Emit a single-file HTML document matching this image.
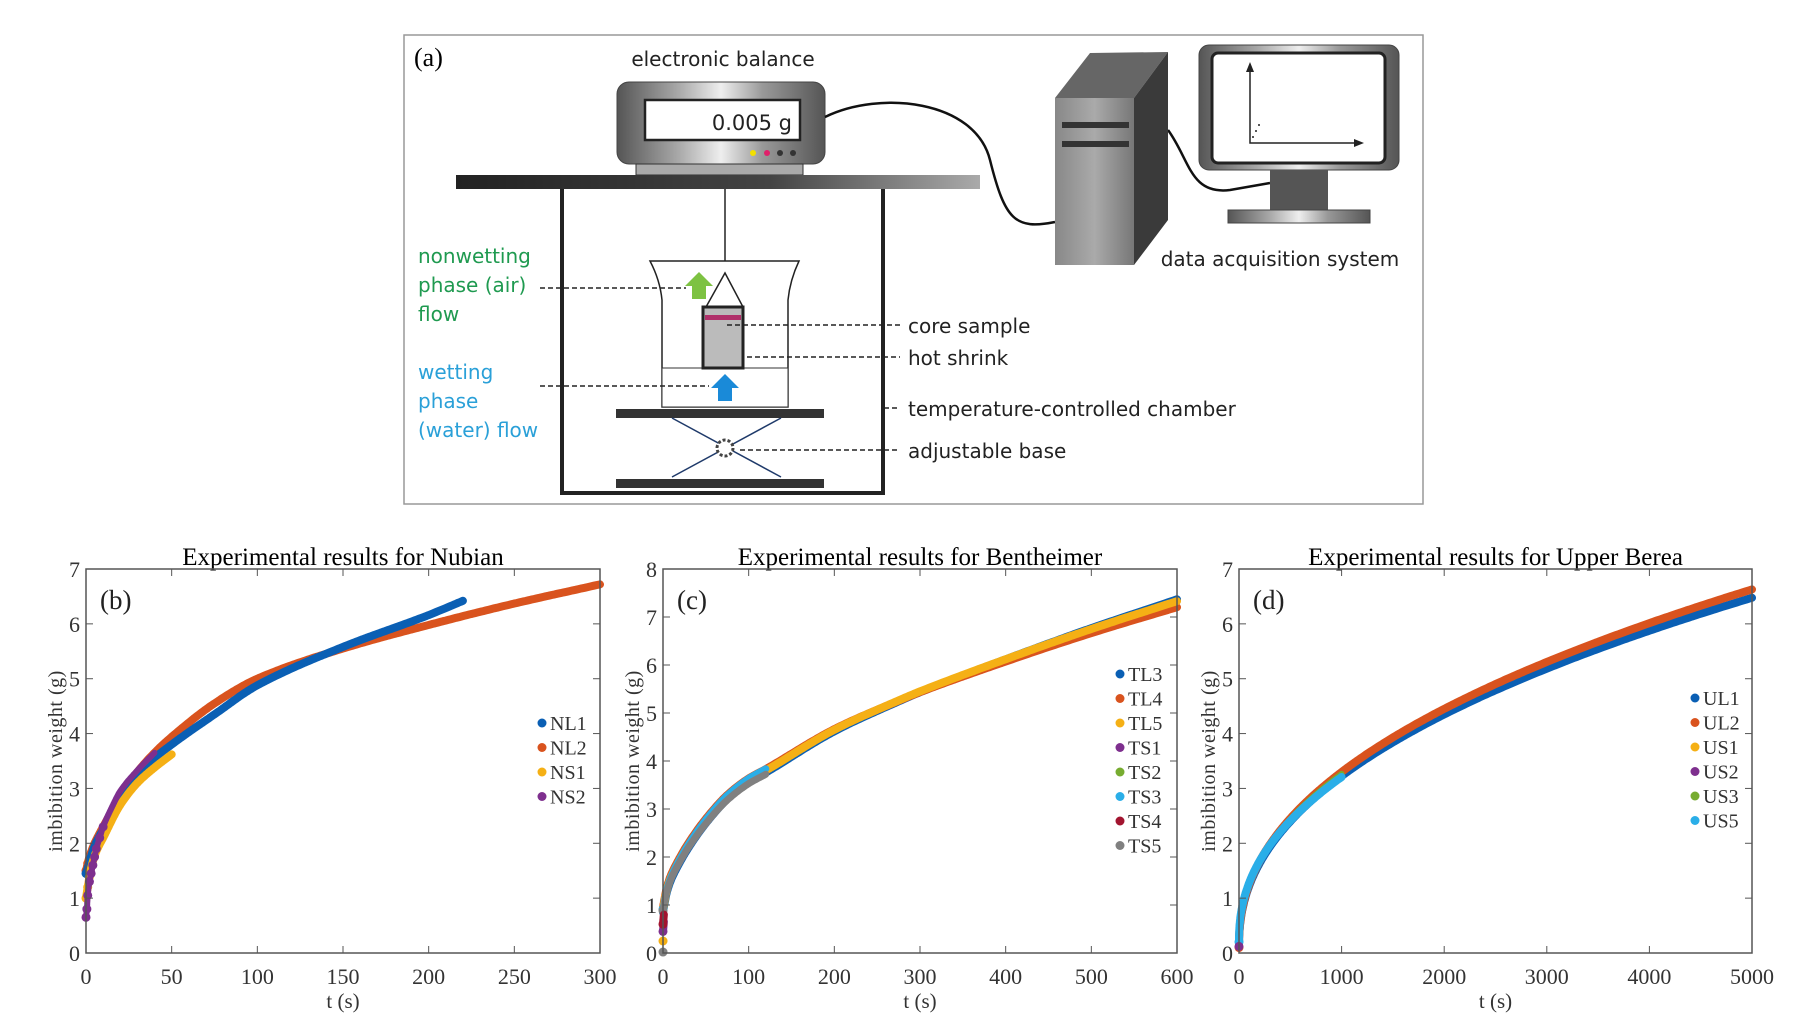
<!DOCTYPE html>
<html><head><meta charset="utf-8"><style>
html,body{margin:0;padding:0;background:#fff;}
svg{display:block}
.sans{font-family:"DejaVu Sans","Liberation Sans",sans-serif;}
.serif{font-family:"Liberation Serif",serif;}
</style></head><body>
<svg id="s" width="1800" height="1013" viewBox="0 0 1800 1013" xmlns="http://www.w3.org/2000/svg">
<defs>
<linearGradient id="metal" x1="0" x2="1" y1="0" y2="0">
<stop offset="0" stop-color="#555"/><stop offset="0.3" stop-color="#aaa"/><stop offset="0.5" stop-color="#eee"/><stop offset="0.7" stop-color="#999"/><stop offset="1" stop-color="#555"/></linearGradient>
<linearGradient id="shelf" x1="0" x2="1"><stop offset="0" stop-color="#222"/><stop offset="0.6" stop-color="#444"/><stop offset="1" stop-color="#aaa"/></linearGradient>
<linearGradient id="tower" x1="0" x2="1"><stop offset="0" stop-color="#888"/><stop offset="0.5" stop-color="#aaa"/><stop offset="1" stop-color="#777"/></linearGradient>
</defs>
<rect x="404" y="35" width="1019" height="469" fill="#fff" stroke="#999" stroke-width="1.5"/>
<text x="414" y="66" class="serif" font-size="26">(a)</text>
<text x="723" y="66" class="sans" font-size="20" text-anchor="middle" fill="#222">electronic balance</text>
<rect x="617" y="82" width="208" height="82" rx="12" fill="url(#metal)" stroke="#444"/>
<rect x="645" y="100" width="155" height="40" fill="#fff" stroke="#222" stroke-width="2.5"/>
<text x="792" y="130" class="sans" font-size="21" text-anchor="end" fill="#222">0.005 g</text>
<circle cx="753" cy="153" r="3" fill="#f2e000"/><circle cx="767" cy="153" r="3" fill="#e0206a"/><circle cx="780" cy="153" r="3" fill="#333"/><circle cx="793" cy="153" r="3" fill="#333"/>
<rect x="636" y="164" width="167" height="11" fill="#aaa" stroke="#333"/>
<rect x="456" y="175" width="524" height="14" fill="url(#shelf)"/>
<polyline points="562,189 562,493 883,493 883,189" fill="none" stroke="#222" stroke-width="4"/>
<line x1="725" y1="189" x2="725" y2="273" stroke="#222" stroke-width="1.5"/>
<path d="M650,261 L799,261 Q790,280 788,300 L788,407 L662,407 L662,300 Q660,280 650,261 Z" fill="#fff" stroke="#222" stroke-width="1.5"/>
<rect x="662" y="368" width="126" height="39" fill="#fff" stroke="#333" stroke-width="1"/>
<polyline points="706,307 725,273 743,307" fill="none" stroke="#222" stroke-width="1.5"/>
<rect x="703" y="307" width="40" height="61" fill="#bbb" stroke="#222" stroke-width="3"/>
<rect x="705" y="315" width="36" height="5" fill="#b0306a"/>
<polygon points="699,272 713,286 706,286 706,299 692,299 692,286 685,286" fill="#7dc242"/>
<polygon points="725,374 739,388 732,388 732,401 718,401 718,388 711,388" fill="#1a8ad8"/>
<rect x="616" y="409" width="208" height="9" fill="#333"/>
<rect x="616" y="479" width="208" height="9" fill="#333"/>
<line x1="672" y1="418" x2="781" y2="477" stroke="#1f3a6a" stroke-width="1.5"/>
<line x1="781" y1="418" x2="672" y2="477" stroke="#1f3a6a" stroke-width="1.5"/>
<circle cx="725" cy="448" r="8" fill="#fff" stroke="#444" stroke-width="3" stroke-dasharray="3 2"/>
<g stroke="#222" stroke-width="1.5" stroke-dasharray="5 3">
<line x1="540" y1="288" x2="686" y2="288"/>
<line x1="727" y1="325" x2="900" y2="325"/>
<line x1="747" y1="357" x2="900" y2="357"/>
<line x1="540" y1="386" x2="709" y2="386"/>
<line x1="884" y1="408" x2="900" y2="408"/>
<line x1="740" y1="450" x2="900" y2="450"/>
</g>
<g class="sans" font-size="20" fill="#222">
<text x="908" y="333">core sample</text>
<text x="908" y="365">hot shrink</text>
<text x="908" y="416">temperature-controlled chamber</text>
<text x="908" y="458">adjustable base</text>
</g>
<g class="sans" font-size="20" fill="#1f9a50">
<text x="418" y="263">nonwetting</text><text x="418" y="292">phase (air)</text><text x="418" y="321">flow</text></g>
<g class="sans" font-size="20" fill="#2aa0d8">
<text x="418" y="379">wetting</text><text x="418" y="408">phase</text><text x="418" y="437">(water) flow</text></g>
<path d="M825,117 C880,90 975,100 990,160 C1005,220 1015,230 1055,222" fill="none" stroke="#111" stroke-width="2.5"/>
<path d="M1168,130 C1190,160 1190,195 1230,190 L1270,183" fill="none" stroke="#111" stroke-width="2.5"/>
<polygon points="1055,98 1090,53 1168,52 1134,98" fill="#666"/>
<polygon points="1134,98 1168,52 1168,220 1134,265" fill="#3a3a3a"/>
<rect x="1055" y="98" width="79" height="167" fill="url(#tower)"/>
<rect x="1062" y="122" width="67" height="6" fill="#333"/><rect x="1062" y="141" width="67" height="6" fill="#333"/>
<rect x="1199" y="45" width="200" height="125" rx="10" fill="url(#metal)" stroke="#444"/>
<rect x="1212" y="53" width="173" height="110" rx="6" fill="#fff" stroke="#222" stroke-width="3"/>
<rect x="1270" y="170" width="58" height="40" fill="#555"/>
<rect x="1228" y="210" width="142" height="13" fill="url(#metal)" stroke="#444"/>
<polyline points="1250,67 1250,143 1358,143" fill="none" stroke="#222" stroke-width="1.5"/>
<polygon points="1246,72 1250,62 1254,72" fill="#222"/><polygon points="1354,139 1364,143 1354,147" fill="#222"/>
<circle cx="1253" cy="137" r="1" fill="#222"/><circle cx="1256" cy="131" r="1" fill="#222"/><circle cx="1259" cy="125" r="1" fill="#222"/>
<text x="1280" y="266" class="sans" font-size="20" text-anchor="middle" fill="#222">data acquisition system</text>
<g id="plots"></g>
</svg>
<script>
(function(){
var NSU="http://www.w3.org/2000/svg";
var g=document.getElementById('plots');
function el(t,a,txt){var e=document.createElementNS(NSU,t);for(var k in a)e.setAttribute(k,a[k]);if(txt!==undefined)e.textContent=txt;g.appendChild(e);return e;}
function interp(ts,ws,sc){var n=ts.length,m=[];for(var i=0;i<n;i++){if(i==0)m[i]=(ws[1]-ws[0])/(ts[1]-ts[0]);else if(i==n-1)m[i]=(ws[n-1]-ws[n-2])/(ts[n-1]-ts[n-2]);else{var d1=(ws[i]-ws[i-1])/(ts[i]-ts[i-1]),d2=(ws[i+1]-ws[i])/(ts[i+1]-ts[i]);m[i]=2/(1/d1+1/d2);}}
 return function(t){var w;if(t>=ts[n-1])w=ws[n-1];else{for(var i=1;i<n;i++){if(t<=ts[i]){var h=ts[i]-ts[i-1],s=(t-ts[i-1])/h,s2=s*s,s3=s2*s;w=(2*s3-3*s2+1)*ws[i-1]+(s3-2*s2+s)*h*m[i-1]+(-2*s3+3*s2)*ws[i]+(s3-s2)*h*m[i];break;}}}return sc?sc(t,w):w;};}
var T0=569,BOT=953;
var SF='Liberation Serif,serif';
function plot(L,R,xmax,ymax,xt,title,lab,curves,leg,legX,legY){
 var X=function(t){return L+(R-L)*t/xmax;}, Y=function(w){return BOT-(BOT-T0)*w/ymax;};
 el('text',{x:(L+R)/2,y:565,'text-anchor':'middle','font-family':SF,'font-size':25},title);
 curves.forEach(function(c){var d='';var n=300;for(var i=0;i<=n;i++){var t=c.t0+(c.t1-c.t0)*Math.pow(i/n,1.8);d+=(i?'L':'M')+X(t).toFixed(1)+','+Y(c.f(t)).toFixed(1);}
  el('path',{d:d,fill:'none',stroke:c.col,'stroke-width':c.w||8,'stroke-linecap':'round','stroke-linejoin':'round'});
  if(c.dots)c.dots.forEach(function(t){el('circle',{cx:X(t),cy:Y(c.f(t)),r:4.5,fill:c.col});});});
 el('rect',{x:L,y:T0,width:R-L,height:BOT-T0,fill:'none',stroke:'#555','stroke-width':1.5});
 xt.forEach(function(v){var x=X(v);el('line',{x1:x,y1:BOT,x2:x,y2:BOT-7,stroke:'#555'});el('line',{x1:x,y1:T0,x2:x,y2:T0+7,stroke:'#555'});
  el('text',{x:x,y:984,'text-anchor':'middle','font-family':SF,'font-size':22,fill:'#333'},v);});
 for(var v=0;v<=ymax;v++){var y=Y(v);el('line',{x1:L,y1:y,x2:L+7,y2:y,stroke:'#555'});el('line',{x1:R,y1:y,x2:R-7,y2:y,stroke:'#555'});
  el('text',{x:L-6,y:y+8,'text-anchor':'end','font-family':SF,'font-size':22,fill:'#333'},v);}
 el('text',{x:(L+R)/2,y:1008,'text-anchor':'middle','font-family':SF,'font-size':21,fill:'#333'},'t (s)');
 el('text',{x:0,y:0,transform:'translate('+(L-24)+','+((T0+BOT)/2)+') rotate(-90)','text-anchor':'middle','font-family':SF,'font-size':20,'letter-spacing':'0.5',fill:'#333'},'imbibition weight (g)');
 el('text',{x:L+14,y:609,'font-family':SF,'font-size':27,fill:'#222'},lab);
 leg.forEach(function(l,i){var y=legY+i*24.5;el('circle',{cx:legX,cy:y,r:4.5,fill:l[1]});el('text',{x:legX+8,y:y+7,'font-family':SF,'font-size':20,fill:'#333'},l[0]);});
}
var B='#0a5fb4',O='#d9531e',Yl='#f5b015',P='#7e2f8e',G='#77ac30',C='#2aaee8',Rd='#a2142f',Gr='#808080';
var NL2=interp([0,2,5,10,20,30,40,50,75,100,150,200,250,300],[1.5,1.75,2.0,2.3,2.85,3.3,3.65,3.94,4.55,5.0,5.55,5.98,6.37,6.72]);
var NL1=interp([0,5,10,20,30,40,50,75,100,150,200,220],[1.45,1.95,2.25,2.8,3.2,3.55,3.8,4.35,4.88,5.58,6.16,6.42]);
var NS1=interp([0,1,3,6,10,20,30,40,50],[1.0,1.2,1.55,1.85,2.1,2.7,3.1,3.38,3.62]);
var NS2=interp([0,0.5,1,2,3,4,5,6,8,10,15,20,30,40],[0.65,0.8,1.05,1.3,1.45,1.6,1.75,1.9,2.1,2.3,2.65,2.95,3.33,3.65]);
plot(86,600,300,7,[0,50,100,150,200,250,300],'Experimental results for Nubian','(b)',[
 {col:O,t0:0,t1:300,f:NL2,dots:[0,1]},
 {col:B,t0:0,t1:220,f:NL1,dots:[0]},
 {col:Yl,t0:0,t1:50,f:NS1,dots:[0,1,2]},
 {col:P,t0:0,t1:40,f:NS2,w:6,dots:[0,0.5,1,2,3,4,5,6,8,10]}],
 [['NL1',B],['NL2',O],['NS1',Yl],['NS2',P]],542,723);
var bt=[0,2,5,10,20,30,50,75,100,120,200,276,300,400,500,600], bw=[0.9,1.1,1.35,1.6,1.95,2.25,2.75,3.25,3.6,3.8,4.65,5.27,5.45,6.12,6.75,7.33];
plot(663,1177,600,8,[0,100,200,300,400,500,600],'Experimental results for Bentheimer','(c)',[
 {col:B,t0:0,t1:600,f:interp(bt,bw,function(t,w){return w*(1+0.012*t/600)-0.05;}),w:8},
 {col:O,t0:0,t1:600,f:interp(bt,bw,function(t,w){return w*(1-0.024*t/600)+0.05;}),w:8},
 {col:Yl,t0:0,t1:600,f:interp(bt,bw),w:8,dots:[0]},
 {col:C,t0:0,t1:120,f:interp(bt,bw,function(t,w){return w*1.01;}),w:7,dots:[0]},
 {col:Gr,t0:0,t1:120,f:interp(bt,bw,function(t,w){return w*0.98;}),w:7,dots:[0]},
 {col:P,t0:0,t1:1,f:function(t){return 0.45+t*0.2;},dots:[0]},{col:Rd,t0:0,t1:1,f:function(t){return 0.6+t*0.2;},dots:[0]},{col:Yl,t0:0,t1:0.5,f:function(t){return 0.25;},dots:[0]},{col:Gr,t0:0,t1:0.5,f:function(t){return 0.02;},dots:[0]}],
 [['TL3',B],['TL4',O],['TL5',Yl],['TS1',P],['TS2',G],['TS3',C],['TS4',Rd],['TS5',Gr]],1120,674);
plot(1239,1752,5000,7,[0,1000,2000,3000,4000,5000],'Experimental results for Upper Berea','(d)',[
 {col:B,t0:0,t1:5000,f:function(t){return 0.1+0.1465*Math.pow(t,0.443);},w:8},
 {col:O,t0:0,t1:5000,f:function(t){return 0.1+0.15*Math.pow(t,0.443);},w:8,dots:[0]},
 {col:G,t0:0,t1:1000,f:function(t){return 0.15+0.146*Math.pow(t,0.443);},w:6},
 {col:C,t0:0,t1:1000,f:function(t){return 0.2+0.141*Math.pow(t,0.443);},w:8,dots:[0]},
 {col:P,t0:0,t1:1,f:function(t){return 0.12;},dots:[0]}],
 [['UL1',B],['UL2',O],['US1',Yl],['US2',P],['US3',G],['US5',C]],1695,698);
})();
</script>
</body></html>
